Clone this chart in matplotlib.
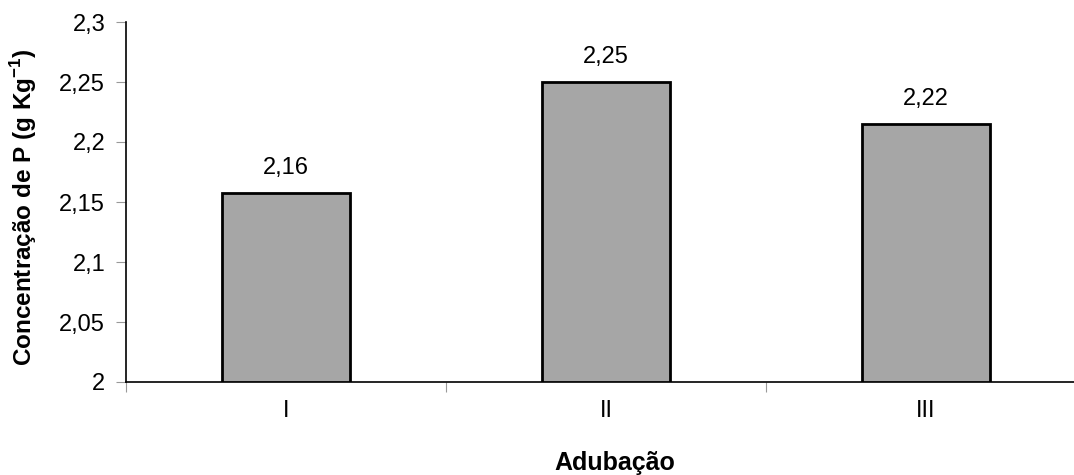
import matplotlib.pyplot as plt
import matplotlib.ticker as mticker

# dados
categorias = ['I', 'II', 'III']
valores = [2.1575, 2.25, 2.215]
rotulos = ['2,16', '2,25', '2,22']
yticks = [2.0, 2.05, 2.1, 2.15, 2.2, 2.25, 2.3]
ytick_labels = ['2', '2,05', '2,1', '2,15', '2,2', '2,25', '2,3']

plt.rcParams['font.family'] = ['Liberation Sans', 'DejaVu Sans']
plt.rcParams['mathtext.fontset'] = 'custom'
plt.rcParams['mathtext.bf'] = 'Liberation Sans:bold'
plt.rcParams['mathtext.rm'] = 'Liberation Sans'

fig = plt.figure(figsize=(10.74, 4.75), dpi=100)
ax = fig.add_axes([126 / 1074, 1 - 382 / 475, 960 / 1074, 360 / 475])

x = list(range(len(categorias)))
ax.bar(x, [v - 2.0 for v in valores], bottom=2.0, width=0.4,
       color='#a6a6a6', edgecolor='black', linewidth=2, zorder=3)

for xi, v, r in zip(x, valores, rotulos):
    ax.annotate(r, (xi, v), xytext=(0, 10), textcoords='offset points',
                ha='center', va='bottom', fontsize=17)

ax.set_xlim(-0.5, 2.5)
ax.set_ylim(2.0, 2.3)
ax.set_yticks(yticks)
ax.set_yticklabels(ytick_labels, fontsize=17)

# ticks do eixo x nas divisoes das categorias, rotulos no centro
ax.set_xticks([-0.5, 0.5, 1.5])
ax.set_xticklabels([])
ax.xaxis.set_minor_locator(mticker.FixedLocator(x))
ax.xaxis.set_minor_formatter(mticker.FixedFormatter(categorias))
ax.tick_params(axis='x', which='minor', length=0, labelsize=17, pad=13)
ax.tick_params(axis='x', which='major', length=7, color='#999999', direction='out')
ax.tick_params(axis='y', length=7, color='#999999', direction='out', pad=8)

for s in ['top', 'right']:
    ax.spines[s].set_visible(False)
ax.spines['left'].set_linewidth(1.2)
ax.spines['bottom'].set_linewidth(1.2)

fig.text(24 / 1074, 1 - 207 / 475, 'Concentração de P (g Kg$^{\\mathbf{-1}}$)',
         rotation=90, ha='center', va='center', fontsize=17.5, fontweight='bold')
fig.text(615 / 1074, 1 - 463 / 475, 'Adubação', ha='center', va='center',
         fontsize=18, fontweight='bold')

fig.savefig('out.png', dpi=100)
